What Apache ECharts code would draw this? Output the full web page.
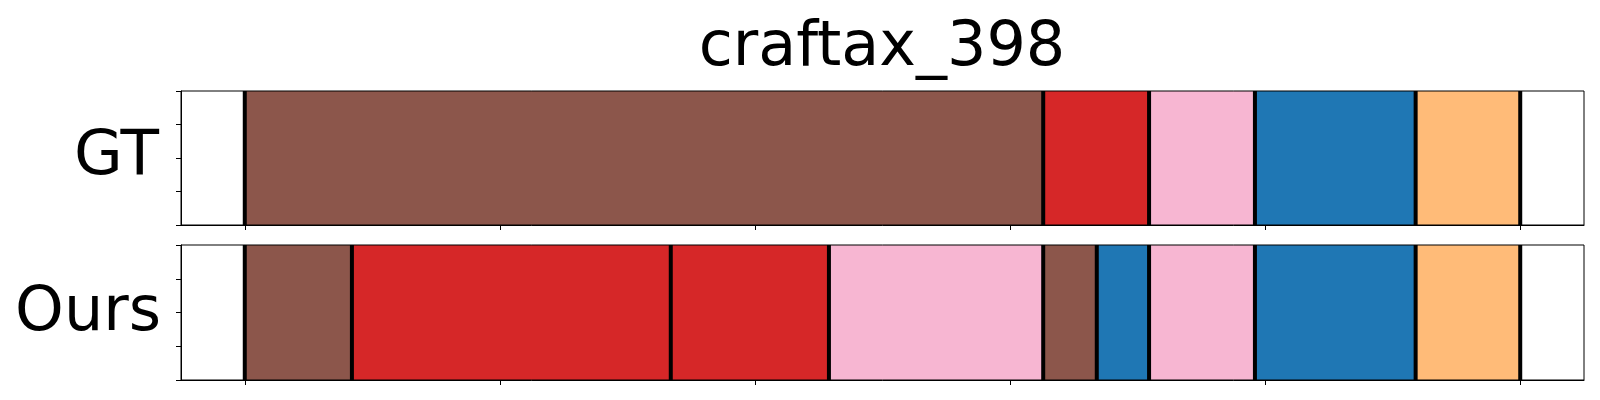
<!DOCTYPE html>
<html>
<head>
<meta charset="utf-8">
<script src="https://cdn.jsdelivr.net/npm/echarts@6/dist/echarts.min.js"></script>
<style>
html,body{margin:0;padding:0;background:#fff;}
#chart{width:1600px;height:400px;}
</style>
</head>
<body>
<div id="chart"></div>
<script>
// ---- data ----
const title = 'craftax_398';
const rowLabels = ['GT', 'Ours'];
const gtBounds = [0, 313, 354.5, 396, 459, 500];
const gtClasses = ['brown', 'red', 'pink', 'blue', 'orange'];
const oursBounds = [0, 42, 167, 229, 313, 334, 354.5, 396, 459, 500];
const oursClasses = ['brown', 'red', 'red', 'pink', 'brown', 'blue', 'pink', 'blue', 'orange'];
const xTicks = [0, 100, 200, 300, 400, 500];
const yTicks = [0, 0.25, 0.5, 0.75, 1];
const palette = {brown: '#8c564b', red: '#d62728', pink: '#f7b6d2', blue: '#1f77b4', orange: '#ffbb78'};

const chart = echarts.init(document.getElementById('chart'), null, {renderer: 'canvas'});

function segData(bounds, classes) {
  const out = [];
  for (let i = 0; i < classes.length; i++) out.push([bounds[i], bounds[i + 1], classes[i]]);
  return out;
}

const grids = [
  {left: 181, top: 91, width: 1403, height: 134},
  {left: 181, top: 245, width: 1403, height: 135}
];

const xAxes = grids.map((g, i) => ({
  type: 'value', gridIndex: i, min: -25, max: 525, position: 'bottom',
  axisLine: {show: true, onZero: false, lineStyle: {color: '#000', width: 1}},
  axisTick: {show: true, inside: false, length: 5, lineStyle: {color: '#000', width: 1}, customValues: xTicks},
  axisLabel: {show: false},
  splitLine: {show: false}
}));
const yAxes = grids.map((g, i) => ({
  type: 'value', gridIndex: i, min: 0, max: 1, interval: 0.25, position: 'left',
  axisLine: {show: true, onZero: false, lineStyle: {color: '#000', width: 1}},
  axisTick: {show: true, inside: false, length: 5, lineStyle: {color: '#000', width: 1}, customValues: yTicks},
  axisLabel: {show: false},
  splitLine: {show: false}
}));

function rectSeries(idx, data) {
  return {
    type: 'custom', xAxisIndex: idx, yAxisIndex: idx, data: data,
    encode: {x: [0, 1]},
    renderItem: function (params, api) {
      const p0 = api.coord([api.value(0), 1]);
      const p1 = api.coord([api.value(1), 0]);
      return {
        type: 'rect',
        shape: {x: p0[0], y: p0[1], width: p1[0] - p0[0], height: p1[1] - p0[1]},
        style: {fill: palette[data[params.dataIndex][2]]}
      };
    },
    z: 2, silent: true
  };
}
function lineSeries(idx, bounds) {
  return {
    type: 'custom', xAxisIndex: idx, yAxisIndex: idx, data: bounds.map(b => [b]),
    encode: {x: 0},
    renderItem: function (params, api) {
      const p0 = api.coord([api.value(0), 1]);
      const p1 = api.coord([api.value(0), 0]);
      return {
        type: 'line',
        shape: {x1: p0[0], y1: p0[1], x2: p1[0], y2: p1[1]},
        style: {stroke: '#000', lineWidth: 4}
      };
    },
    z: 3, silent: true
  };
}

const option = {
  backgroundColor: '#fff',
  animation: false,
  grid: grids.map(g => Object.assign({show: true, borderColor: '#000', borderWidth: 1, backgroundColor: 'transparent', z: 5}, g)),
  xAxis: xAxes,
  yAxis: yAxes,
  series: [
    rectSeries(0, segData(gtBounds, gtClasses)),
    lineSeries(0, gtBounds),
    rectSeries(1, segData(oursBounds, oursClasses)),
    lineSeries(1, oursBounds)
  ],
  graphic: [
    {type: 'text', z: 10,
     style: {text: title, x: 882, y: 49, font: '62px "DejaVu Sans"', fill: '#000', align: 'center', verticalAlign: 'middle'}},
    {type: 'text', z: 10,
     style: {text: rowLabels[0], x: 159, y: 158, font: '63px "DejaVu Sans"', fill: '#000', align: 'right', verticalAlign: 'middle'}},
    {type: 'text', z: 10,
     style: {text: rowLabels[1], x: 161, y: 314, font: '62px "DejaVu Sans"', fill: '#000', align: 'right', verticalAlign: 'middle'}}
  ]
};
chart.setOption(option);
</script>
</body>
</html>
